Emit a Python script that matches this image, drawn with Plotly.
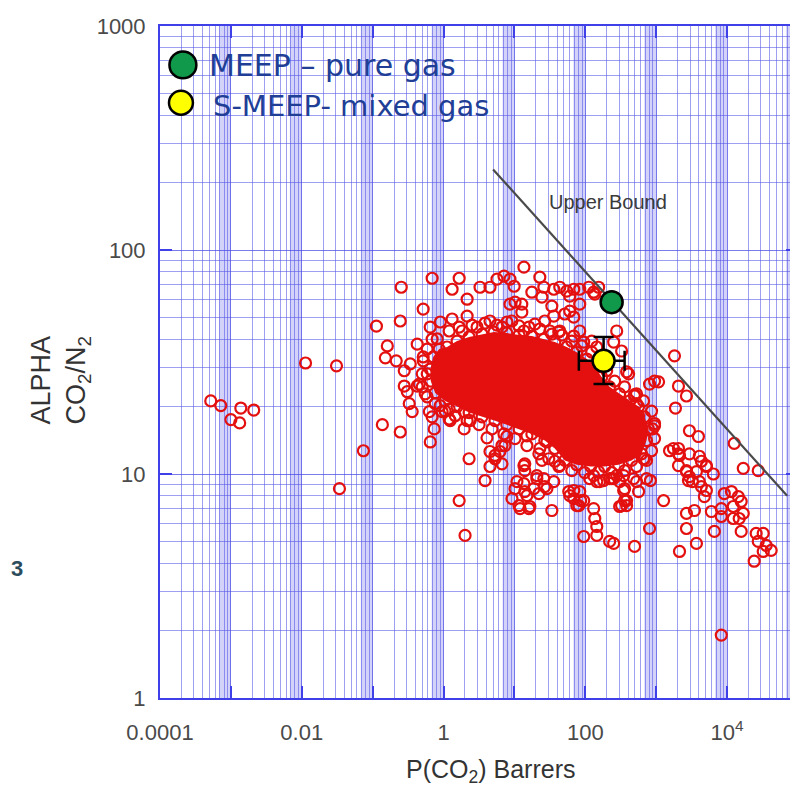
import math
import plotly.graph_objects as go

# ---------------- data ----------------
x_tick_vals = [1e-4, 1e-3, 1e-2, 1e-1, 1, 10, 100, 1e3, 1e4, 1e5]
x_tick_text = ["0.0001", "", "0.01", "", "1", "", "100", "", "10<sup>4</sup>", ""]
y_tick_vals = [1, 10, 100, 1000]
y_tick_text = ["1", "10", "100", "1000"]

# isolated low-permeability points
red_left = [(5.2e-4, 21.2), (7.2e-4, 20.2), (1.0e-3, 17.5), (1.33e-3, 16.9), (1.38e-3, 19.7),
            (2.1e-3, 19.3), (0.0113, 31.3), (0.0309, 30.4), (0.034, 8.6), (0.074, 12.7),
            (0.113, 45.7), (0.245, 48.2), (0.161, 37.3), (0.151, 33), (0.215, 32), (0.137, 16.6),
            (0.245, 15.4), (0.279, 24.7), (0.253, 68.2), (0.69, 74.8), (0.516, 54.5), (0.328, 20.6),
            (0.361, 19.0), (0.279, 28.9), (0.339, 31), (0.648, 45.3), (0.69, 18), (0.738, 15.9),
            (0.425, 38), (0.516, 33.3), (0.588, 28), (0.454, 25.2), (0.551, 22.8), (0.308, 23.3),
            (0.425, 24.7)]

# upper part of the cloud
red_upper = [(13.6, 83.8), (1.66, 74.8), (1.32, 66.8), (2.15, 60.3), (3.27, 68.2), (4.52, 68.2),
             (5.67, 74.1), (7.12, 76.4), (8.65, 74.1), (9.9, 68.9), (10.2, 58.5), (12.7, 57.3),
             (12.7, 52.8), (17.6, 64.8), (22.8, 75.6), (26, 68.2), (24.4, 61.6), (33.7, 56.2),
             (35.9, 50.7), (35.9, 66.8), (43.6, 68.2), (54.7, 65.5), (68.7, 66.8), (83.4, 66.8),
             (112, 68.2), (131, 64.8), (154, 68.2), (60.3, 53.3), (83.4, 57.3), (68.7, 50.2),
             (51.3, 51.8), (43.6, 43.5), (68.7, 41.3), (83.4, 43.5), (95, 38.8), (123, 39.2),
             (145, 36.9), (136, 63.5), (60.3, 62.2), (2.15, 50.7), (0.9, 47.7), (8.65, 57.3),
             (13.6, 43.5), (33.7, 42.1), (42.2, 43), (1.32, 49.2), (2.97, 45.3), (4.52, 48.2),
             (1.83, 43.5), (6.67, 45.3), (9.2, 48.2), (19.4, 46.7), (26.8, 48.2), (0.69, 40)]

# high-permeability side
red_right = [(277, 43.5), (325, 35.4), (408, 28), (251, 38.8), (1810, 33.7), (947, 26), (805, 25.2),
             (1080, 25.8), (2060, 24.7), (2670, 22.3), (1870, 19.7), (2940, 15.6), (3940, 14.7),
             (12600, 13.7), (1540, 12.7), (2060, 13.0), (2130, 12.1), (887, 15.9), (947, 16.4),
             (495, 22.3), (564, 18.2), (582, 14.8), (382, 13.0), (4060, 12.0), (528, 22.8),
             (528, 20.6), (382, 28.6), (16900, 10.6), (27500, 10.35), (4340, 11.4), (5100, 10.8),
             (6400, 10.0), (3690, 10.25), (2060, 12.3), (2060, 10.9), (2670, 10.35), (2850, 9.35),
             (4060, 9.25), (5100, 8.44), (4340, 8.79), (4780, 7.93), (1270, 7.61), (828, 9.35),
             (564, 8.35), (347, 8.44), (382, 7.61), (325, 7.23), (259, 12.1), (277, 9.84),
             (235, 9.54), (480, 9.54), (663, 11.7), (251, 4.9), (495, 4.75), (805, 5.71),
             (2130, 4.51), (2670, 6.67), (3460, 6.87), (2670, 5.71), (3690, 4.9), (6000, 6.8),
             (8280, 7.01), (8280, 6.46), (6610, 5.54), (9130, 8.18), (11500, 8.35), (14400, 7.93),
             (15800, 7.54), (12200, 7.16), (16900, 6.67), (12200, 6.33), (14800, 6.33),
             (15800, 5.54), (25700, 5.43), (32300, 5.43), (27500, 5.0), (35600, 4.8),
             (41800, 4.56), (32300, 4.51), (24100, 4.08), (8280, 1.91), (1750, 13.0),
             (2940, 12.3), (5100, 10.9), (2670, 10.25), (2940, 9.73), (3240, 9.25)]

# lower middle part of the cloud
red_lower = [(0.65, 13.9), (0.955, 19.0), (1.2, 19.5), (1.24, 17.3), (1.95, 15.9), (2.37, 17.3),
             (2.29, 11.7), (4.1, 14.5), (3.85, 9.35), (4.52, 10.8), (5.32, 12.1), (6.25, 12.6),
             (7.35, 13.4), (7.8, 14.7), (6.67, 11.1), (1.66, 7.61), (2.01, 5.32), (10.2, 8.6),
             (9.23, 7.77), (13.6, 9.06), (15.0, 8.01), (18.8, 8.6), (20.7, 9.54), (26.8, 8.79),
             (14.0, 11.1), (14.0, 10.35), (11.6, 7.23), (16.0, 7.01), (33.7, 6.87), (68.7, 7.77),
             (83.4, 8.35), (95, 7.61), (80.8, 7.23), (58.4, 8.35), (115, 9.54), (145, 9.25),
             (181, 9.35), (251, 9.54), (131, 7.01), (136, 6.33), (145, 5.83), (95, 5.26),
             (145, 5.32), (220, 5.0), (22.8, 13.0), (28.7, 13.9), (24.4, 11.5), (15.0, 14.8),
             (37.1, 11.4), (43.6, 10.9), (13.6, 10.9), (10.85, 9.25), (14.0, 8.35), (16.5, 7.16),
             (12, 7.01), (22.1, 8.18), (28.7, 8.6), (26.0, 9.54), (35.9, 9.25), (20.7, 9.84),
             (60.3, 8.01), (75.7, 7.23), (68.7, 8.44), (86.1, 7.61), (131, 9.84), (159, 9.25),
             (220, 9.54), (305, 9.25), (358, 8.6), (347, 9.84), (528, 9.25), (684, 11.7),
             (730, 9.54), (358, 7.61), (305, 7.16), (382, 7.23), (4.52, 12.6), (5.32, 11.7),
             (6.67, 13.4), (1.95, 19.0), (0.896, 20.2), (1.2, 17.6), (0.63, 19.0)]

# rings packed around the edge of the saturated core
red_fringe = [(0.813, 40.1), (1.2, 43.5), (1.66, 45.3), (2.52, 46.2), (3.85, 47.2), (5.68, 46.2),
              (7.85, 47.7), (11.6, 45.8), (16.0, 45.3), (22.8, 44.4), (31.6, 43.5), (46.6, 41.7),
              (64.4, 39.2), (88.9, 37.3), (123, 35.0), (170, 32.0), (200, 28.9), (259, 26.0),
              (358, 24.5), (495, 22.6), (663, 21.2), (859, 19.1), (947, 16.8), (947, 14.4),
              (859, 12.7), (730, 11.5), (528, 10.8), (358, 10.35), (235, 10.15), (154, 10.25),
              (98, 10.15), (64.4, 10.35), (42.3, 10.8), (30.5, 11.7), (22.1, 12.3), (15.0, 13.4),
              (10.2, 14.4), (7.11, 15.1), (4.83, 15.9), (3.17, 16.6), (2.15, 17.3), (1.46, 18.2),
              (1.05, 19.1), (0.762, 20.6), (0.587, 22.1), (0.5, 24.5), (0.5, 28.0), (0.516, 32.0),
              (0.587, 36.1)]

# outline of the saturated core of the cloud (points too dense to separate)
core_edge_x = [1.12, 1.55, 2.29, 3.49, 5.15, 7.8, 11.6, 17.6, 26, 37.1, 54.7, 75.7, 105, 136, 170,
               220, 305, 421, 564, 684, 779, 730, 621, 449, 295, 187, 119, 75.7, 51.3, 37.1, 26.8,
               17.6, 11.6, 7.8, 5.32, 3.49, 2.29, 1.55, 1.05, 0.762, 0.66, 0.65, 0.714, 0.867]
core_edge_y = [36.9, 39.2, 40.9, 42.1, 43, 42.6, 41.7, 41.3, 40, 38.8, 36.9, 35, 32.6, 30, 27.1,
               24.5, 22.8, 21.2, 20, 18, 15.9, 14.1, 12.3, 11.5, 11.0, 10.8, 10.8, 11.0, 11.5, 13.0,
               14.1, 15.1, 15.9, 16.6, 17.3, 18.0, 18.8, 20, 21.2, 23, 26, 29.4, 33.3, 36.1]

upper_bound_x = [5.0, 70300]
upper_bound_y = [229, 8.0]

meep_x = [235]
meep_y = [58.5]

smeep_x = [181]
smeep_y = [32]
smeep_xerr_plus = [177]
smeep_xerr_minus = [100]
smeep_yerr_plus = [8.9]
smeep_yerr_minus = [6.8]

# ---------------- styles ----------------
RED = "rgb(228,16,16)"
BLUE = "rgb(64,64,232)"
GRID = "rgba(70,70,230,0.72)"
MINOR = "rgba(80,80,232,0.55)"
TEXT_BLUE = "#203e96"
FONT = "Liberation Sans, Arial, sans-serif"

fig = go.Figure()

pts = red_left + red_upper + red_right + red_lower + red_fringe

fig.add_trace(go.Scatter(x=core_edge_x + [core_edge_x[0]], y=core_edge_y + [core_edge_y[0]],
                         mode="lines", fill="toself", fillcolor=RED,
                         line=dict(width=0, color=RED), hoverinfo="skip", showlegend=False))
fig.add_trace(go.Scatter(x=[p[0] for p in pts] + core_edge_x,
                         y=[p[1] for p in pts] + core_edge_y,
                         mode="markers",
                         marker=dict(symbol="circle-open", size=11, color=RED,
                                     line=dict(width=2.2, color=RED)),
                         showlegend=False))

fig.add_trace(go.Scatter(x=upper_bound_x, y=upper_bound_y, mode="lines",
                         line=dict(color="#4a4a4a", width=2.2), showlegend=False))

fig.add_trace(go.Scatter(x=meep_x, y=meep_y, mode="markers", name="MEEP – pure gas",
                         marker=dict(size=22, color="#10994a", line=dict(color="black", width=2.5)),
                         showlegend=False))

fig.add_trace(go.Scatter(x=smeep_x, y=smeep_y, mode="markers", name="S-MEEP- mixed gas",
                         error_x=dict(type="data", symmetric=False, array=smeep_xerr_plus,
                                      arrayminus=smeep_xerr_minus, color="black",
                                      thickness=2.5, width=10),
                         error_y=dict(type="data", symmetric=False, array=smeep_yerr_plus,
                                      arrayminus=smeep_yerr_minus, color="black",
                                      thickness=2.5, width=10),
                         marker=dict(size=22, color="#ffff00", line=dict(color="black", width=2.5)),
                         showlegend=False))

# minor grid positions (2..9 of every decade)
x_minor = [m * 10 ** k for k in range(-4, 5) for m in range(2, 10)]
y_minor = [m * 10 ** k for k in range(0, 3) for m in range(2, 10)]

shapes = []
# dense grid bands before each decade on the x axis
for k in range(-4, 5):
    shapes.append(dict(type="rect", xref="x", yref="paper", x0=6.8 * 10 ** k, x1=10 ** (k + 1),
                       y0=0, y1=1, fillcolor="rgba(110,110,236,0.30)", line=dict(width=0),
                       layer="below"))

# legend glyphs
shapes.append(dict(type="circle", xref="paper", yref="paper", x0=0.0148, x1=0.057,
                   y0=0.9221, y1=0.9622, fillcolor="#10994a", line=dict(color="black", width=2.5)))
shapes.append(dict(type="circle", xref="paper", yref="paper", x0=0.0141, x1=0.0516,
                   y0=0.868, y1=0.9036, fillcolor="#ffff00", line=dict(color="black", width=2.5)))

annotations = [
    dict(text="MEEP – pure gas", xref="paper", yref="paper", x=0.0734, y=0.9407,
         xanchor="left", yanchor="middle", showarrow=False,
         font=dict(family="DejaVu Sans, sans-serif", size=30, color=TEXT_BLUE)),
    dict(text="S-MEEP- mixed gas", xref="paper", yref="paper", x=0.0797, y=0.8813,
         xanchor="left", yanchor="middle", showarrow=False,
         font=dict(family="DejaVu Sans, sans-serif", size=29, color=TEXT_BLUE)),
    dict(text="Upper Bound", xref="x", yref="y", x=math.log10(207), y=math.log10(163),
         showarrow=False, font=dict(family=FONT, size=20, color="#3a3a3a")),
    dict(text="ALPHA<br>CO<sub>2</sub>/N<sub>2</sub>", xref="paper", yref="paper",
         x=-0.156, y=0.473, textangle=-90, showarrow=False, xanchor="center", yanchor="middle",
         font=dict(family=FONT, size=27, color="#333333")),
    dict(text="P(CO<sub>2</sub>) Barrers", xref="paper", yref="paper", x=0.518, y=-0.108,
         showarrow=False, xanchor="center", yanchor="middle",
         font=dict(family=FONT, size=25, color="#333333")),
    dict(text="<b>3</b>", xref="paper", yref="paper", x=-0.2235, y=0.193, showarrow=False,
         xanchor="center", yanchor="middle", font=dict(family=FONT, size=22, color="#2b4c5c")),
]

axis_common = dict(
    showline=True, linecolor=BLUE, linewidth=2, mirror="ticks",
    ticks="inside", ticklen=12, tickwidth=2, tickcolor=BLUE,
    showgrid=True, gridcolor=GRID, gridwidth=1,
    zeroline=False,
    tickfont=dict(family=FONT, size=22, color="#4a4a4a"),
)

fig.update_layout(
    width=798, height=789, autosize=False,
    margin=dict(l=152, r=6, t=16, b=99),
    paper_bgcolor="white", plot_bgcolor="white",
    shapes=shapes, annotations=annotations,
    showlegend=False,
    xaxis=dict(type="log", range=[-4, 5], tickmode="array", tickvals=x_tick_vals,
               ticktext=x_tick_text, ticklabelstandoff=14,
               minor=dict(tickmode="array", tickvals=x_minor, showgrid=True,
                          gridcolor=MINOR, gridwidth=1, ticks=""),
               **axis_common),
    yaxis=dict(type="log", range=[0, 3], tickmode="array", tickvals=y_tick_vals,
               ticktext=y_tick_text, ticklabelstandoff=8,
               minor=dict(tickmode="array", tickvals=y_minor, showgrid=True,
                          gridcolor=MINOR, gridwidth=1, ticks=""),
               **axis_common),
)

fig.write_html("out.html")
